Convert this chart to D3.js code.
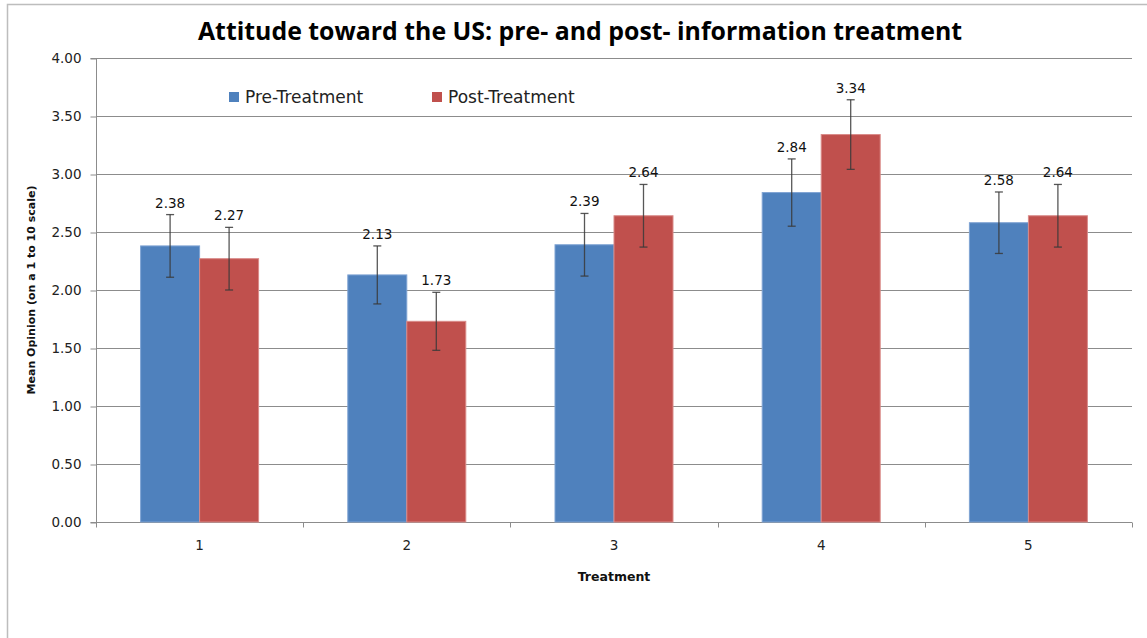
<!DOCTYPE html>
<html><head><meta charset="utf-8">
<script src="https://cdn.jsdelivr.net/npm/d3@7"></script>
<style>body{margin:0;background:#fff;}svg{display:block;}</style>
</head><body>
<svg id="c" width="1147" height="638"></svg>
<script>
const categories = ["1","2","3","4","5"];
const seriesNames = ["Pre-Treatment","Post-Treatment"];
const preValues = [2.38, 2.13, 2.39, 2.84, 2.58];
const postValues = [2.27, 1.73, 2.64, 3.34, 2.64];
const preErrors = [0.27, 0.25, 0.27, 0.29, 0.265];
const postErrors = [0.27, 0.25, 0.27, 0.30, 0.27];
const yTicks = [0, 0.5, 1, 1.5, 2, 2.5, 3, 3.5, 4];
const colors = ["#4F81BD", "#C0504D"];
const edgeColors = ["#7FA3D3", "#D98A88"];

const svg = d3.select("#c");
const W = 1147, H = 638;
const m = {left: 96, right: 1132, top: 58, bottom: 522};
const FONT = "'DejaVu Sans', Verdana, sans-serif";

// frame
svg.append("path").attr("d", `M7.5,${H} V4.5 H${W}`).attr("fill","none").attr("stroke","#bdbdbd").attr("stroke-width",1.5);

const x0 = d3.scaleBand().domain(categories).range([m.left, m.right]).padding(0);
const x1 = d3.scaleBand().domain(seriesNames).range([0, x0.bandwidth()]).paddingInner(0).paddingOuter(0.756);
const y = d3.scaleLinear().domain([0,4]).range([m.bottom, m.top]);

// gridlines
svg.append("g").selectAll("line").data(yTicks.filter(d=>d>0)).join("line")
  .attr("x1", m.left).attr("x2", m.right)
  .attr("y1", d=>Math.round(y(d))+0.5).attr("y2", d=>Math.round(y(d))+0.5)
  .attr("stroke","#8c8c8c").attr("stroke-width",1);

// y axis
const yAxis = d3.axisLeft(y).tickValues(yTicks).tickFormat(d3.format(".2f")).tickSize(6).tickPadding(9);
const gy = svg.append("g").attr("transform",`translate(${m.left+0.5},0.5)`).call(yAxis);
gy.select(".domain").attr("stroke","#8c8c8c").attr("d", `M-6,${m.top}H0V${m.bottom}H-6`);
gy.selectAll(".tick line").attr("stroke","#8c8c8c");
gy.selectAll("text").attr("font-family",FONT).attr("font-size","13.5px").attr("fill","#222");

// x axis
const boundaries = categories.map(c=>x0(c)).concat([m.right]);
const xAxis = d3.axisBottom(x0).tickSize(0).tickPadding(18);
const gx = svg.append("g").attr("transform",`translate(0,${m.bottom+0.5})`).call(xAxis);
gx.select(".domain").attr("stroke","#8c8c8c").attr("d", `M${m.left},0H${m.right}`);
gx.selectAll("text").attr("font-family",FONT).attr("font-size","13.5px").attr("fill","#222");
gx.selectAll("line.bnd").data(boundaries).join("line").attr("class","bnd")
  .attr("x1",d=>Math.round(d)+0.5).attr("x2",d=>Math.round(d)+0.5).attr("y1",0).attr("y2",5)
  .attr("stroke","#8c8c8c");

// bars
const rows = categories.map((c,i)=>({cat:c, vals:[
  {s:seriesNames[0], v:preValues[i], e:preErrors[i], k:0},
  {s:seriesNames[1], v:postValues[i], e:postErrors[i], k:1}]}));
const groups = svg.append("g").selectAll("g").data(rows).join("g")
  .attr("transform", d=>`translate(${x0(d.cat)},0)`);
groups.selectAll("rect").data(d=>d.vals).join("rect")
  .attr("x", d=>x1(d.s)).attr("width", x1.bandwidth())
  .attr("y", d=>y(d.v)).attr("height", d=>y(0)-y(d.v))
  .attr("fill", d=>colors[d.k]).attr("stroke", d=>edgeColors[d.k]).attr("stroke-width",1);

// error bars
const eb = groups.selectAll("g.eb").data(d=>d.vals).join("g").attr("class","eb");
const cx = d=>x1(d.s)+x1.bandwidth()/2;
eb.append("line").attr("x1",cx).attr("x2",cx)
  .attr("y1",d=>y(d.v+d.e)).attr("y2",d=>y(d.v-d.e)).attr("stroke","#3a3a3a").attr("stroke-opacity",0.85).attr("stroke-width",1.3);
eb.append("line").attr("x1",d=>cx(d)-4).attr("x2",d=>cx(d)+4)
  .attr("y1",d=>y(d.v+d.e)).attr("y2",d=>y(d.v+d.e)).attr("stroke","#3a3a3a").attr("stroke-opacity",0.85).attr("stroke-width",1.3);
eb.append("line").attr("x1",d=>cx(d)-4).attr("x2",d=>cx(d)+4)
  .attr("y1",d=>y(d.v-d.e)).attr("y2",d=>y(d.v-d.e)).attr("stroke","#3a3a3a").attr("stroke-opacity",0.85).attr("stroke-width",1.3);

// value labels
groups.selectAll("text.val").data(d=>d.vals).join("text").attr("class","val")
  .attr("x", cx).attr("y", d=>y(d.v+d.e)-7)
  .attr("text-anchor","middle").attr("font-family",FONT)
  .attr("font-size","13.5px").attr("fill","#111").text(d=>d3.format(".2f")(d.v));

// legend
const legendX = [229, 432];
const lg = svg.append("g").selectAll("g").data(seriesNames).join("g")
  .attr("transform",(d,i)=>`translate(${legendX[i]},97)`);
lg.append("rect").attr("x",0).attr("y",-5).attr("width",10).attr("height",10).attr("fill",(d,i)=>colors[i]);
lg.append("text").attr("x",16).attr("y",6).attr("font-family",FONT)
  .attr("font-size","17px").attr("fill","#222").text(d=>d);

// title
const title = svg.append("text").attr("x",580).attr("y",40).attr("text-anchor","middle")
  .attr("font-family","'Open Sans', 'DejaVu Sans', sans-serif").attr("font-weight","bold")
  .attr("font-size","22px").attr("fill","#000")
  .text("Attitude toward the US: pre- and post- information treatment");
const tw = title.node().getComputedTextLength();
title.attr("font-size", (22*764/tw).toFixed(2)+"px");

// axis titles
svg.append("text").attr("transform","translate(35,290) rotate(-90)").attr("text-anchor","middle")
  .attr("font-family",FONT).attr("font-weight","bold")
  .attr("font-size","11px").attr("fill","#111").text("Mean Opinion (on a 1 to 10 scale)");
svg.append("text").attr("x",614).attr("y",581).attr("text-anchor","middle")
  .attr("font-family",FONT).attr("font-weight","bold")
  .attr("font-size","12.5px").attr("fill","#111").text("Treatment");
</script>
</body></html>
